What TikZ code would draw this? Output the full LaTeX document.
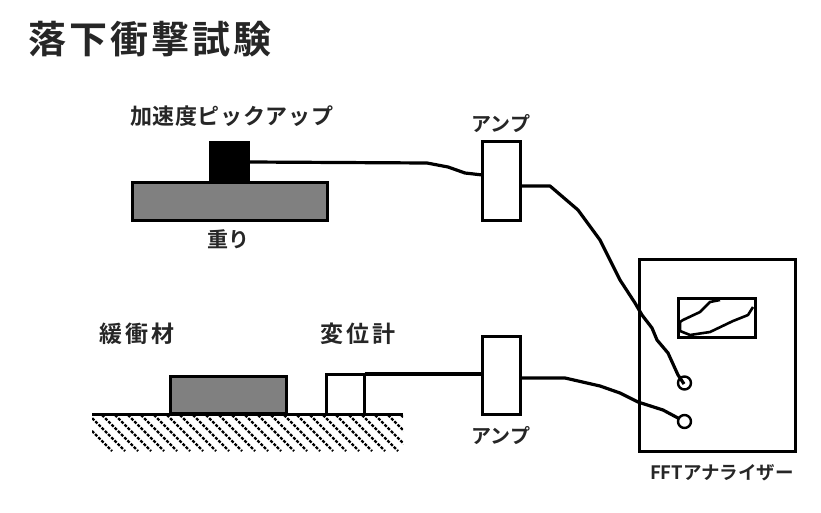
\documentclass[tikz,border=0pt]{standalone}
\usepackage{fontspec}
\setmainfont{Noto Sans CJK JP}[BoldFont={* Bold}]
\usetikzlibrary{calc}
\definecolor{massgray}{RGB}{128,128,128}
\tikzset{
  outline/.style={draw=black,line width=3pt,inner sep=0pt,outer sep=0pt,minimum width=#1},
  wire/.style={draw=black,line width=3.2pt,line join=round},
  thin wire/.style={draw=black,line width=2.6pt,line join=round},
  hatch/.style={draw=black,line width=2.2pt,dash pattern=on 3pt off 1.5pt},
  label/.style={inner sep=0pt,outer sep=0pt,text=black!85,font=\bfseries\fontsize{#1}{#1}\selectfont},
  port/.style={circle,draw=black,line width=2.4pt,minimum size=13pt,inner sep=0pt,outer sep=0pt,fill=white}
}
\begin{document}
\begin{tikzpicture}[x=1pt,y=-1pt]
\useasboundingbox (0,0) rectangle (821,513);
% ground hatch
\begin{scope}
\clip (92,415) rectangle (403,451);
\foreach \i in {0,...,26} {
  \draw[hatch] ({76+\i*13},415) -- ({76+\i*13+36},451);
}
\end{scope}
\coordinate (gl) at (92,414);
\coordinate (gr) at (403,414);
\draw[black,line width=3pt] (gl) -- (gr);
% weight and sensor
\node[outline=195pt,minimum height=38pt,fill=massgray] (weight) at (229.5,201.5) {};
\node[draw=black,fill=black,line width=1pt,minimum width=40pt,minimum height=41pt,inner sep=0pt,outer sep=0pt] (sensor) at (229.5,162.5) {};
% cushion
\node[outline=116pt,minimum height=37pt,fill=massgray] (cushion) at (228.5,395) {};
% displacement gauge
\node[draw=black,line width=3pt,fill=white,minimum width=38pt,minimum height=40pt,inner sep=0pt,outer sep=0pt] (gauge) at (345.5,394) {};
% amps
\node[outline=38pt,minimum height=78pt,fill=white] (amptop) at (501.5,181) {};
\node[outline=38pt,minimum height=78pt,fill=white] (ampbot) at (501.5,375.5) {};
% analyser
\node[outline=156pt,minimum height=192pt,fill=white] (fft) at (717,355) {};
\node[outline=77pt,minimum height=39pt,fill=white] (screen) at (717,317.5) {};
\node[port] (p1) at (684.5,383) {};
\node[port] (p2) at (684.5,421.5) {};
% screen curves
\coordinate (s0) at (680,331);
\draw[thin wire] (s0) -- (680,322) -- (683,320) -- (700,312) -- (710,302) -- (720,300);
\draw[thin wire] (s0) -- (690,335) -- (710,332) -- (733,321) -- (748,315) -- (753,307);
% wires
\coordinate (e1) at (684,384);
\draw[wire] (sensor.east |- 0,162) -- (427,163) -- (448,167) -- (465,173) -- (amptop.west |- 0,175);
\draw[wire] (amptop.east |- 0,186) -- (550,186) -- (578,210) -- (600,240) -- (620,280) -- (635,303) -- (642,315) -- (652,328) -- (657,340) -- (668,353) -- (678,375) -- (e1);
\draw[wire] (gauge.north east) -- (ampbot.west |- gauge.north);
\draw[wire] (ampbot.east |- 0,378) -- (565,378) -- (600,386) -- (620,393) -- (638,402) -- (663,410) -- (p2);
% labels
\node[label=38,anchor=west] (title) at (28,39) {\addfontfeature{LetterSpace=8}落下衝撃試験};
\node[label=22,anchor=west] (lacc) at (130,116) {\addfontfeature{LetterSpace=3}加速度ピックアップ};
\node[label=20,anchor=center] (lamp1) at (501,124) {アンプ};
\node[label=21,anchor=center] (lw) at (228,239) {重り};
\node[label=23,anchor=west] (lc) at (99,334) {\addfontfeature{LetterSpace=14}緩衝材};
\node[label=23,anchor=west] (ld) at (320,334) {\addfontfeature{LetterSpace=14}変位計};
\node[label=20,anchor=center] (lamp2) at (501,436) {アンプ};
\node[label=18.5,anchor=center] (lf) at (722,473) {FFTアナライザー};
\end{tikzpicture}
\end{document}
